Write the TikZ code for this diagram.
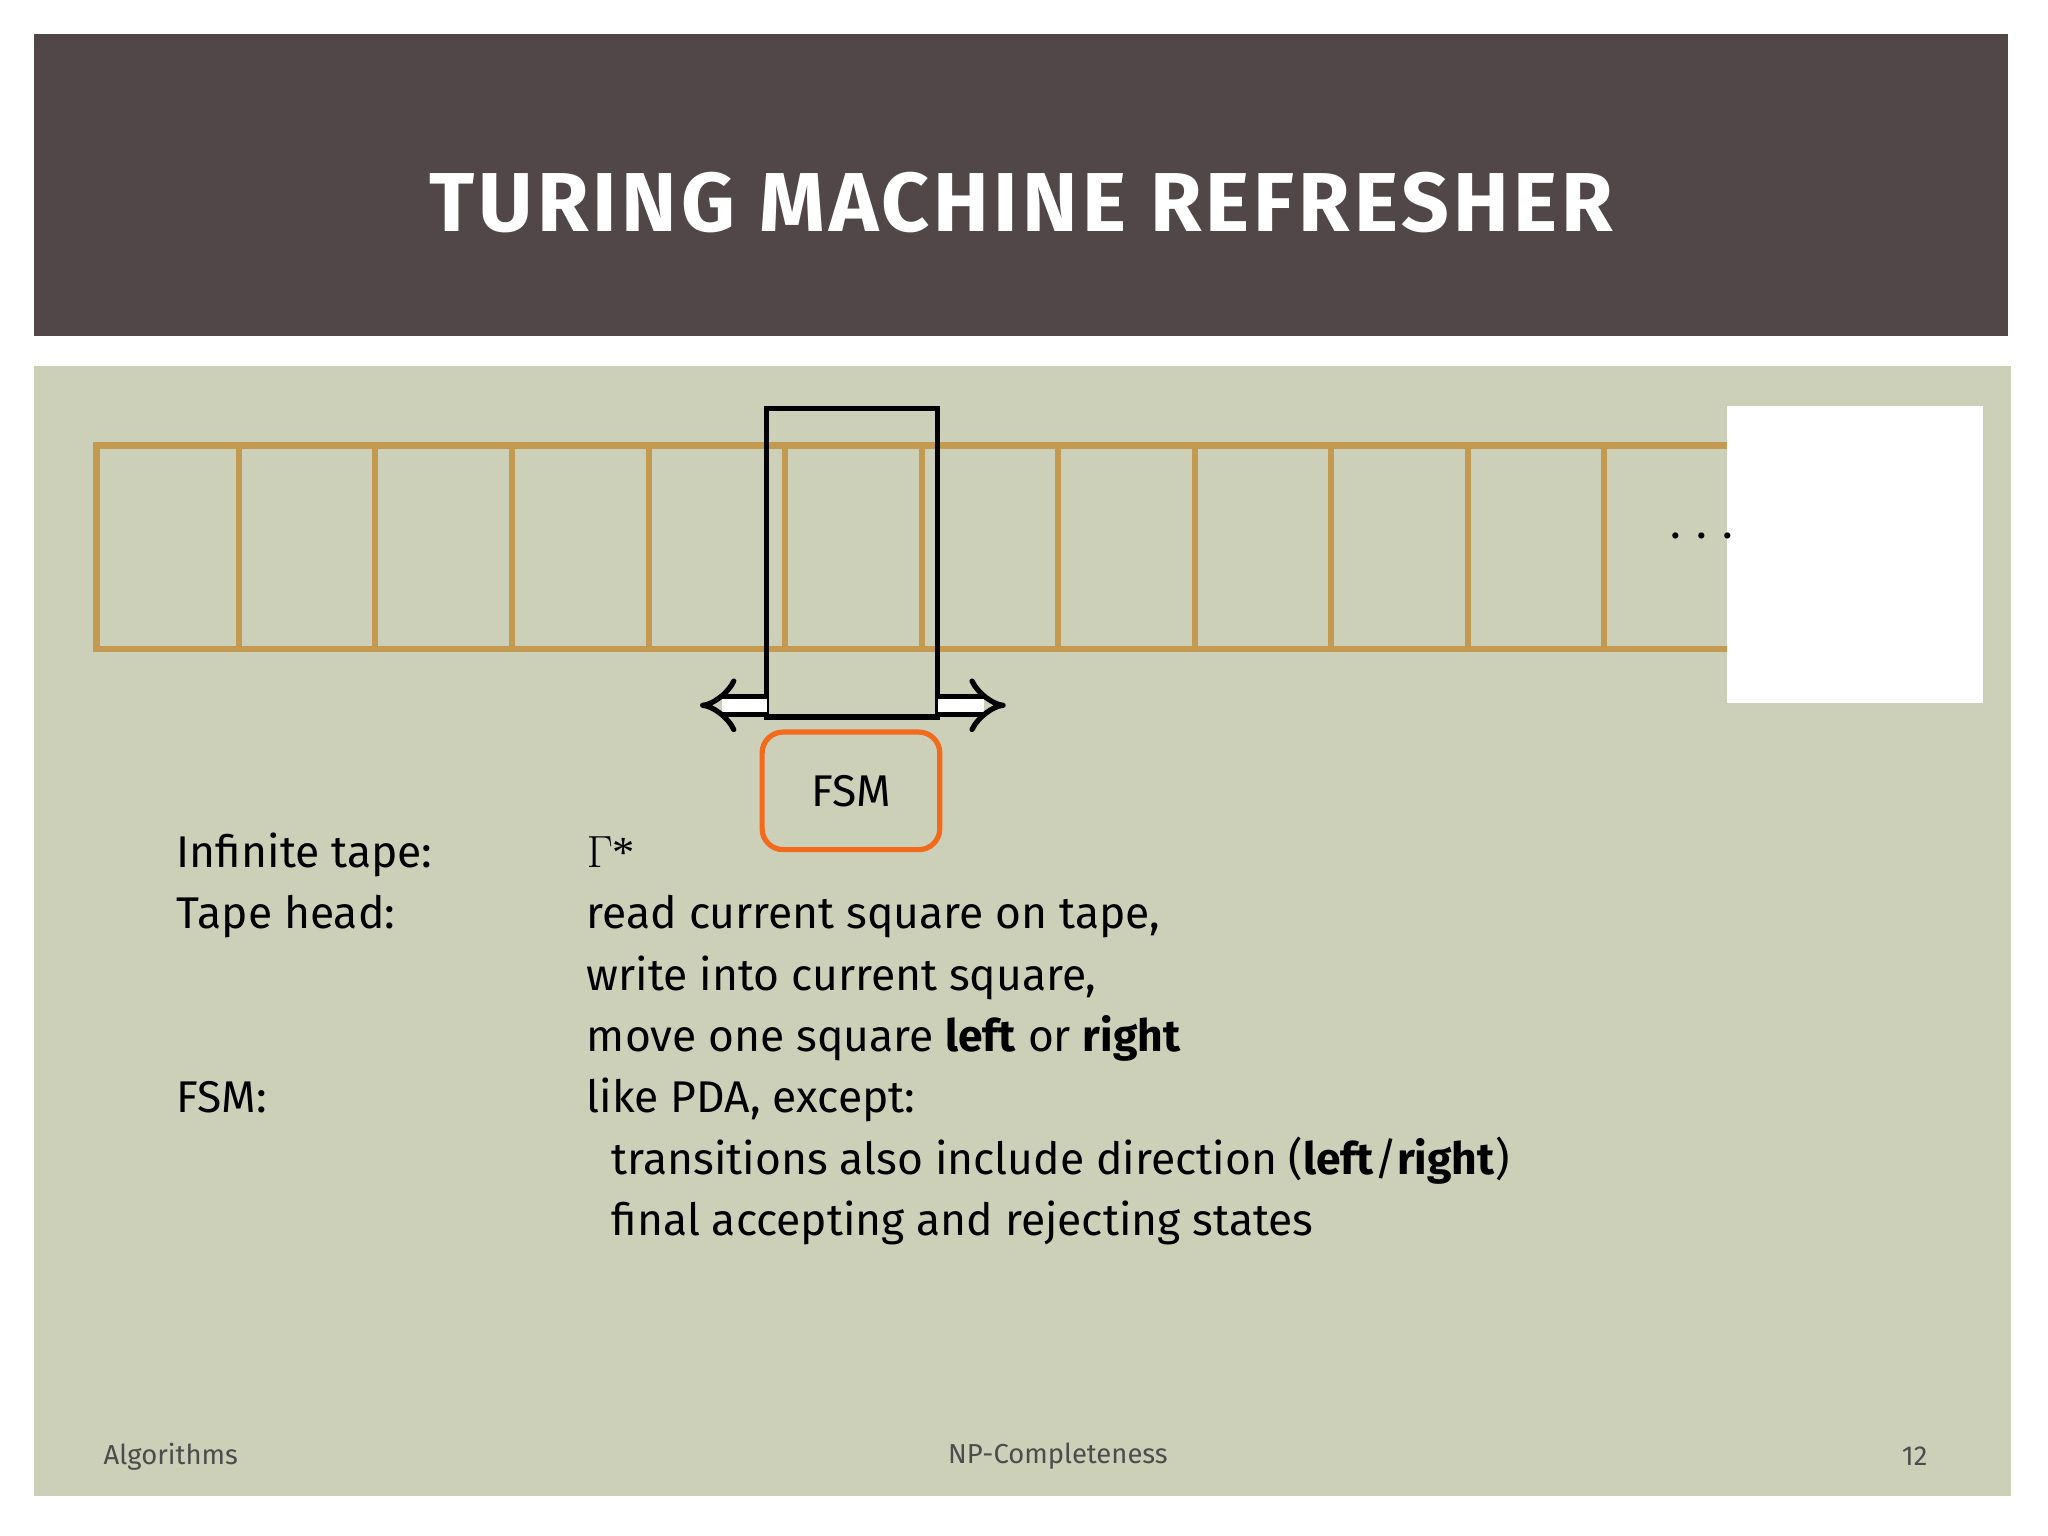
\documentclass[tikz,border=0pt]{standalone}
\usepackage{fontspec}
\setmainfont{Fira Sans}
\newfontfamily\serifx{Liberation Serif}
\newfontfamily\titlefont[LetterSpace=5]{Fira Sans}
\usetikzlibrary{arrows.meta}
\definecolor{titlebg}{HTML}{524748}
\definecolor{bodybg}{HTML}{CDD0B8}
\definecolor{tape}{HTML}{C49A50}
\definecolor{fsmc}{HTML}{F26B1D}
\tikzset{lbl/.style={anchor=base west,inner sep=0pt,font=\fontsize{17}{20}\selectfont},
foot/.style={font=\fontsize{10.5}{12}\selectfont,text=black!70}}
\begin{document}
\begin{tikzpicture}[x=0.5pt,y=-0.5pt]
\useasboundingbox (0,0) rectangle (1568,1176);
\fill[white] (0,0) rectangle (1568,1176);
\fill[titlebg] (26,26) rectangle (1537,257);
\node[text=white,font=\titlefont\fontsize{32}{36}\selectfont\bfseries] (title) at (782,155) {TURING MACHINE REFRESHER};
\fill[bodybg] (26,280) rectangle (1540,1145);
\draw[tape,line width=2.5pt] (1322,341) -- (74,341) -- (74,497) -- (1322,497);
\foreach \x in {183,287,392,497,601,706,810,915,1019,1124,1228}
  \draw[tape,line width=2.5pt] (\x,341) -- (\x,497);
\fill[white] (1322,311) rectangle (1518,538);
\node[font=\fontsize{17}{20}\selectfont] (dots) at (1303,410) {. . .};
\draw[black,line width=2pt] (587,313) rectangle (718,549);
\draw[line width=2pt,double,double distance=5pt,-{Implies[length=8pt]}] (587,540) -- (536,540);
\draw[line width=2pt,double,double distance=5pt,-{Implies[length=8pt]}] (718,540) -- (770,540);
\node[draw=fsmc,line width=2pt,rounded corners=8pt,minimum width=68pt,minimum height=45pt,font=\fontsize{17}{20}\selectfont] (fsm) at (651.5,605.5) {FSM};
\node[lbl] (l1) at (135,664) {Infinite tape:};
\node[lbl] (v1) at (449,664) {\serifx $\Gamma$*};
\node[lbl] (l2) at (135,711) {Tape head:};
\node[lbl] (v2) at (449,711) {read current square on tape,};
\node[lbl] (v3) at (449,758) {write into current square,};
\node[lbl] (v4) at (449,805) {move one square \textbf{left} or \textbf{right}};
\node[lbl] (l3) at (135,852) {FSM:};
\node[lbl] (v5) at (449,852) {like PDA, except:};
\node[lbl] (v6) at (468,899) {transitions also include direction (\textbf{left}/\textbf{right})};
\node[lbl] (v7) at (468,946) {final accepting and rejecting states};
\node[foot,anchor=west,inner sep=0pt] (f1) at (79,1115) {Algorithms};
\node[foot] (f2) at (810,1115) {NP-Completeness};
\node[foot,anchor=east,inner sep=0pt] (f3) at (1476,1115) {12};
\end{tikzpicture}
\end{document}
